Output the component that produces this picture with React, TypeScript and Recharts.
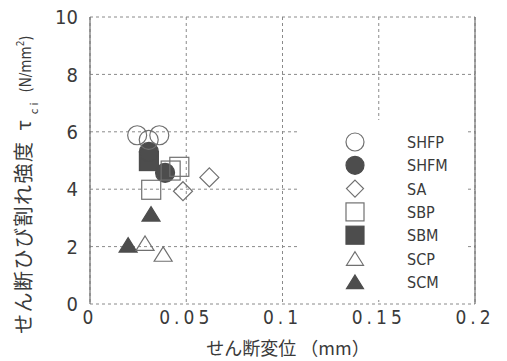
import { ScatterChart, Scatter, XAxis, YAxis, CartesianGrid, ReferenceLine } from "recharts";

const xTicks = [0, 0.05, 0.1, 0.15, 0.2];
const xTickLabels = ["0", "0.05", "0.1", "0.15", "0.2"];
const yTicks = [0, 2, 4, 6, 8, 10];

const shfp = [
  { x: 0.0245, y: 5.88 },
  { x: 0.0305, y: 5.72 },
  { x: 0.036, y: 5.88 },
];
const shfm = [
  { x: 0.0306, y: 5.3 },
  { x: 0.039, y: 4.57 },
];
const sa = [
  { x: 0.0483, y: 3.93 },
  { x: 0.062, y: 4.41 },
];
const sbp = [
  { x: 0.0419, y: 4.65 },
  { x: 0.0464, y: 4.78 },
  { x: 0.0318, y: 3.98 },
];
const sbm = [{ x: 0.0306, y: 4.98 }];
const scp = [
  { x: 0.0286, y: 2.12 },
  { x: 0.038, y: 1.74 },
];
const scm = [
  { x: 0.0317, y: 3.14 },
  { x: 0.0198, y: 2.06 },
];

const DARK = "#4d4d4d";
const LINE = "#707070";
const TEXT = "#3a3a3a";
const NUM_FONT = "'Liberation Sans Narrow', 'DejaVu Sans Condensed', sans-serif";
const JP_FONT = "'Noto Sans CJK JP', sans-serif";

type Kind = "circle" | "diamond" | "square" | "triangle";

const seriesList: { name: string; data: { x: number; y: number }[]; kind: Kind; filled: boolean }[] = [
  { name: "SHFP", data: shfp, kind: "circle", filled: false },
  { name: "SHFM", data: shfm, kind: "circle", filled: true },
  { name: "SA", data: sa, kind: "diamond", filled: false },
  { name: "SBP", data: sbp, kind: "square", filled: false },
  { name: "SBM", data: sbm, kind: "square", filled: true },
  { name: "SCP", data: scp, kind: "triangle", filled: false },
  { name: "SCM", data: scm, kind: "triangle", filled: true },
];

// filled first, outlines on top
const drawOrder = ["SCM", "SBM", "SHFM", "SCP", "SA", "SBP", "SHFP"];

function marker(kind: Kind, filled: boolean, cx: number, cy: number, s: number) {
  const fill = filled ? DARK : "none";
  const stroke = filled ? DARK : LINE;
  const h = s / 2;
  if (kind === "circle") {
    return <circle cx={cx} cy={cy} r={h} fill={fill} stroke={stroke} strokeWidth={1.2} />;
  }
  if (kind === "square") {
    return <rect x={cx - h} y={cy - h} width={s} height={s} fill={fill} stroke={stroke} strokeWidth={1.2} />;
  }
  if (kind === "diamond") {
    return (
      <polygon
        points={`${cx},${cy - h} ${cx + h},${cy} ${cx},${cy + h} ${cx - h},${cy}`}
        fill={fill}
        stroke={stroke}
        strokeWidth={1.2}
      />
    );
  }
  const th = s * 0.8;
  return (
    <polygon
      points={`${cx},${cy - th / 2} ${cx + h},${cy + th / 2} ${cx - h},${cy + th / 2}`}
      fill={fill}
      stroke={stroke}
      strokeWidth={1.2}
    />
  );
}

function LegendBox() {
  return (
    <svg width={165} height={180} style={{ position: "absolute", left: 300, top: 120 }}>
      <rect x={0} y={0} width={165} height={180} fill="#fff" />
      {seriesList.map((s, i) => {
        const cy = 22 + i * 23.3;
        return (
          <g key={s.name}>
            {marker(s.kind, s.filled, 55, cy, s.kind === "circle" || s.kind === "square" ? 18 : 17)}
            <text x={107} y={cy + 6} fontFamily={NUM_FONT} fontSize={16} fill={TEXT}>
              {s.name}
            </text>
          </g>
        );
      })}
    </svg>
  );
}

function YLabel() {
  return (
    <text transform="rotate(-90)" x={-334} y={31} fill={TEXT} fontFamily={JP_FONT}>
      <tspan fontSize={20} letterSpacing={1.5}>せん断ひび割れ強度</tspan>
      <tspan fontSize={20} dx={10}>τ</tspan>
      <tspan fontSize={11} dx={6} dy={7}>c</tspan>
      <tspan fontSize={11} dx={3}>i</tspan>
      <tspan fontSize={15} dx={10} dy={-7} fontFamily={NUM_FONT}>(N/mm</tspan>
      <tspan fontSize={10} dy={-7} fontFamily={NUM_FONT}>2</tspan>
      <tspan fontSize={15} dy={7} fontFamily={NUM_FONT}>)</tspan>
    </text>
  );
}

function XLabel() {
  return (
    <text x={288} y={355} textAnchor="middle" fill={TEXT} fontFamily={JP_FONT} fontSize={18}>
      せん断変位 （mm）
    </text>
  );
}

export default function App() {
  return (
    <div style={{ position: "absolute", left: 0, top: 0, width: 507, height: 361, background: "#fff" }}>
      <ScatterChart width={507} height={361} margin={{ top: 17, right: 32, left: 0, bottom: 0 }}>
        <CartesianGrid stroke="#8a8a8a" strokeDasharray="3 3" />
        <XAxis
          type="number"
          dataKey="x"
          domain={[0, 0.2]}
          ticks={xTicks}
          tickFormatter={(v: number) => xTickLabels[xTicks.indexOf(v)] ?? String(v)}
          axisLine={false}
          tickLine={false}
          tickSize={0}
          tickMargin={7}
          height={57}
          interval={0}
          tick={{ fill: TEXT, fontSize: 19, fontFamily: NUM_FONT, letterSpacing: 4 }}
          label={{ content: () => <XLabel /> }}
        />
        <YAxis
          type="number"
          dataKey="y"
          domain={[0, 10]}
          ticks={yTicks}
          width={90}
          axisLine={{ stroke: LINE, strokeWidth: 1.2 }}
          tickLine={false}
          tickSize={0}
          tickMargin={12}
          interval={0}
          tick={{ fill: TEXT, fontSize: 20, fontFamily: NUM_FONT }}
          label={{ content: () => <YLabel /> }}
        />
        <ReferenceLine x={0.2} stroke={LINE} strokeWidth={1.2} />
        {drawOrder.map((name) => {
          const s = seriesList.find((d) => d.name === name)!;
          return (
            <Scatter
              key={s.name}
              name={s.name}
              data={s.data}
              isAnimationActive={false}
              shape={(p: any) => marker(s.kind, s.filled, p.cx, p.cy, s.kind === "triangle" ? 18 : 19)}
            />
          );
        })}
      </ScatterChart>
      <LegendBox />
    </div>
  );
}
